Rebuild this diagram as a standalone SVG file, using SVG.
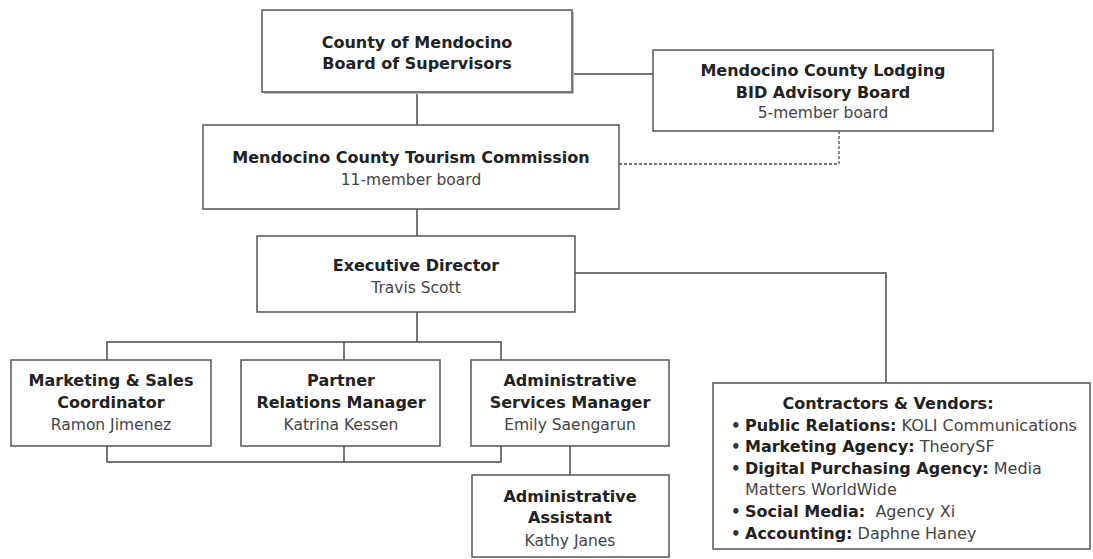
<svg xmlns="http://www.w3.org/2000/svg" width="1093" height="559" viewBox="0 0 1093 559">
<style>
.box{fill:#fff;stroke:#555;stroke-width:1.5}
.shadow{fill:#bbb}
.b{font-family:"DejaVu Sans",Verdana,sans-serif;font-weight:bold;font-size:16px;fill:#222;text-anchor:middle}
.r{font-family:"DejaVu Sans",Verdana,sans-serif;font-size:15.5px;fill:#444;text-anchor:middle}
.cb{font-family:"DejaVu Sans",Verdana,sans-serif;font-weight:bold;font-size:16px;fill:#222}
.cr{font-family:"DejaVu Sans",Verdana,sans-serif;font-weight:normal;font-size:16px;fill:#444}
.bul{font-family:"DejaVu Sans",Verdana,sans-serif;font-weight:bold;font-size:15px;fill:#333}
.ln{fill:none;stroke:#4a4a4a;stroke-width:1.5}
.dash{fill:none;stroke:#4a4a4a;stroke-width:1.3;stroke-dasharray:3 2}
</style>
<rect width="1093" height="559" fill="#fff"/>
<g id="connectors">
<path class="ln" d="M572 74H653"/>
<path class="ln" d="M417 92V125"/>
<path class="dash" d="M619 164H839V131"/>
<path class="ln" d="M417 209V236"/>
<path class="ln" d="M417 312V342"/>
<path class="ln" d="M107 360V342H501V360"/>
<path class="ln" d="M344 342V360"/>
<path class="ln" d="M107 446V462H501V446"/>
<path class="ln" d="M344 446V462"/>
<path class="ln" d="M570 446V475"/>
<path class="ln" d="M575 273H886V383"/>
</g>
<g id="county">
<rect class="shadow" x="264" y="12" width="310" height="82"/>
<rect class="box" x="262" y="10" width="310" height="82"/>
<text class="b" x="417" y="48">County of Mendocino</text>
<text class="b" x="417" y="69">Board of Supervisors</text>
</g>
<g id="lodging">
<rect class="box" x="653" y="50" width="340" height="81"/>
<text class="b" x="823" y="76">Mendocino County Lodging</text>
<text class="b" x="823" y="98">BID Advisory Board</text>
<text class="r" x="823" y="118">5-member board</text>
</g>
<g id="tourism">
<rect class="box" x="203" y="125" width="416" height="84"/>
<text class="b" x="411" y="163">Mendocino County Tourism Commission</text>
<text class="r" x="411" y="185">11-member board</text>
</g>
<g id="exec">
<rect class="box" x="257" y="236" width="318" height="76"/>
<text class="b" x="416" y="271">Executive Director</text>
<text class="r" x="416" y="293">Travis Scott</text>
</g>
<g id="marketing">
<rect class="box" x="11" y="360" width="200" height="86"/>
<text class="b" x="111" y="386">Marketing &amp; Sales</text>
<text class="b" x="111" y="408">Coordinator</text>
<text class="r" x="111" y="430">Ramon Jimenez</text>
</g>
<g id="partner">
<rect class="box" x="241" y="360" width="199" height="86"/>
<text class="b" x="341" y="386">Partner</text>
<text class="b" x="341" y="408">Relations Manager</text>
<text class="r" x="341" y="430">Katrina Kessen</text>
</g>
<g id="adminservices">
<rect class="box" x="471" y="360" width="198" height="86"/>
<text class="b" x="570" y="386">Administrative</text>
<text class="b" x="570" y="408">Services Manager</text>
<text class="r" x="570" y="430">Emily Saengarun</text>
</g>
<g id="assistant">
<rect class="box" x="472" y="475" width="197" height="82"/>
<text class="b" x="570" y="502">Administrative</text>
<text class="b" x="570" y="523">Assistant</text>
<text class="r" x="570" y="546">Kathy Janes</text>
</g>
<g id="contractors">
<rect class="box" x="713" y="383" width="377" height="166"/>
<text class="b" x="888" y="409">Contractors &amp; Vendors:</text>
<text class="bul" x="731" y="430.6">•</text>
<text class="cb" x="745" y="430.6">Public Relations:<tspan class="cr"> KOLI Communications</tspan></text>
<text class="bul" x="731" y="452.2">•</text>
<text class="cb" x="745" y="452.2">Marketing Agency:<tspan class="cr"> TheorySF</tspan></text>
<text class="bul" x="731" y="473.8">•</text>
<text class="cb" x="745" y="473.8">Digital Purchasing Agency:<tspan class="cr"> Media</tspan></text>
<text class="cr" x="745" y="495.4">Matters WorldWide</text>
<text class="bul" x="731" y="517">•</text>
<text class="cb" x="745" y="517">Social Media:<tspan class="cr">&#160; Agency Xi</tspan></text>
<text class="bul" x="731" y="538.6">•</text>
<text class="cb" x="745" y="538.6">Accounting:<tspan class="cr"> Daphne Haney</tspan></text>
</g>
</svg>
